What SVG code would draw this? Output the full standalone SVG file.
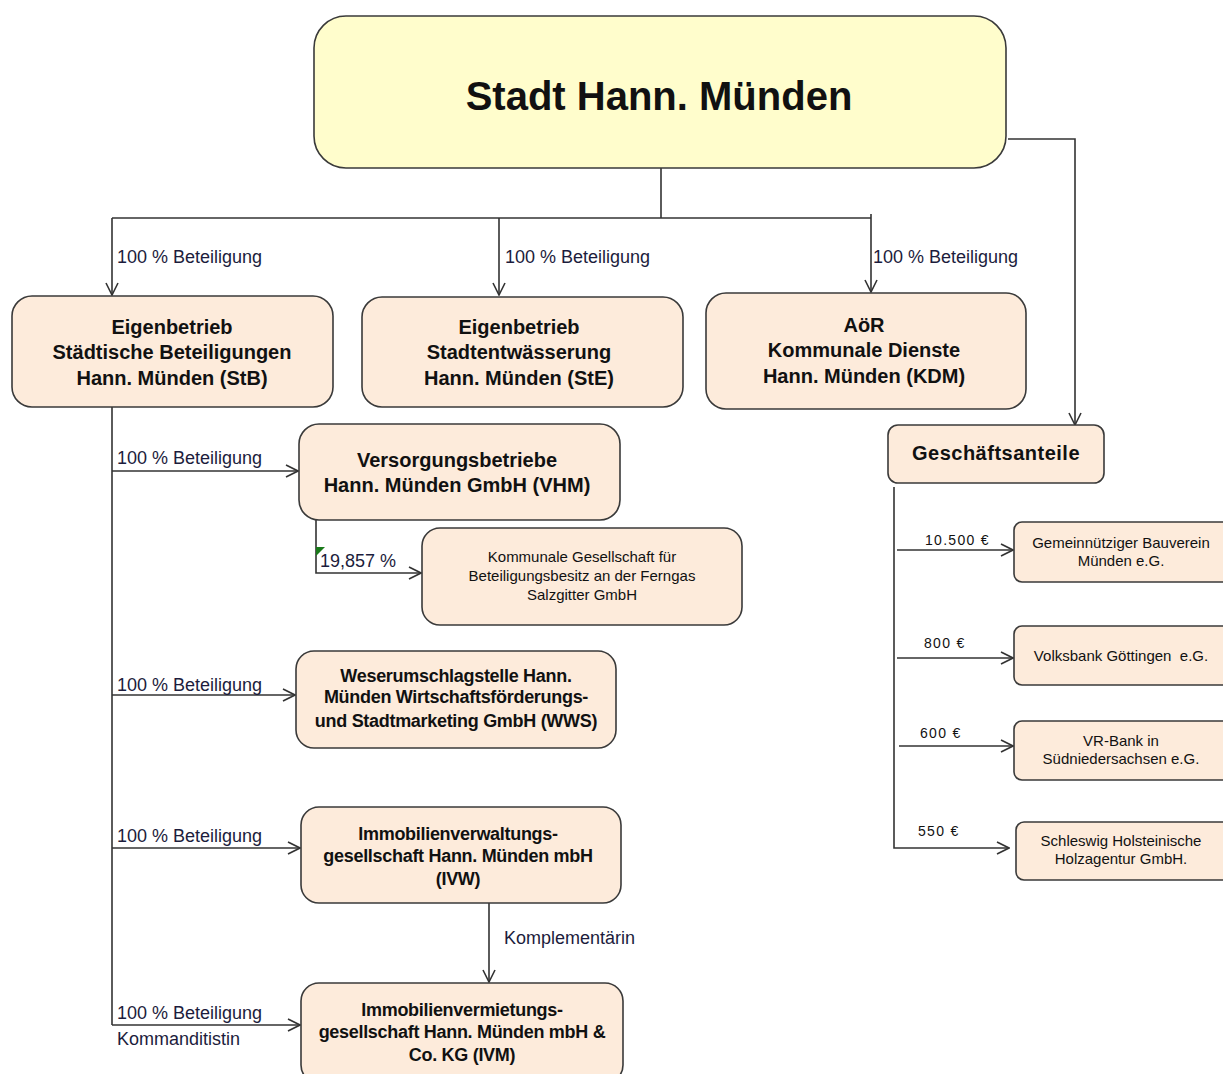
<svg xmlns="http://www.w3.org/2000/svg" width="1223" height="1074" viewBox="0 0 1223 1074">
<defs>
<marker id="arr" viewBox="0 0 14 14" refX="13" refY="7" markerWidth="14" markerHeight="14" markerUnits="userSpaceOnUse" orient="auto">
<path d="M1,1 L13,7 L1,13" fill="none" stroke="#333" stroke-width="1.6"/>
</marker>
<style>
.box{fill:#FDEBDB;stroke:#3a3a3a;stroke-width:1.6}
.top{fill:#FFFDCC;stroke:#3a3a3a;stroke-width:1.6}
.t{font-family:"Liberation Sans",Arial,sans-serif;font-weight:bold;font-size:20px;fill:#111;text-anchor:middle}
.tw{font-family:"Liberation Sans",Arial,sans-serif;font-weight:bold;font-size:18px;fill:#111;text-anchor:middle;letter-spacing:-0.3px}
.s{font-family:"Liberation Sans",Arial,sans-serif;font-size:15px;fill:#111;text-anchor:middle}
.lbl{font-family:"Liberation Sans",Arial,sans-serif;font-size:18px;fill:#1c1c3c}
.eur{font-family:"Liberation Sans",Arial,sans-serif;font-size:14px;fill:#111;letter-spacing:1.3px}
.c{fill:none;stroke:#333;stroke-width:1.6}
</style>
</defs>
<rect width="1223" height="1074" fill="#fff"/>

<g id="connectors">
<path class="c" d="M661,167 V218"/>
<path class="c" d="M112,218 H871"/>
<path class="c" d="M112,218 V295" marker-end="url(#arr)"/>
<path class="c" d="M499,218 V295" marker-end="url(#arr)"/>
<path class="c" d="M871,214 V292" marker-end="url(#arr)"/>
<path class="c" d="M1008,139 H1075 V425" marker-end="url(#arr)"/>
<path class="c" d="M112,407 V1025"/>
<path class="c" d="M112,471 H298" marker-end="url(#arr)"/>
<path class="c" d="M112,695 H295" marker-end="url(#arr)"/>
<path class="c" d="M112,848 H300" marker-end="url(#arr)"/>
<path class="c" d="M112,1025 H300" marker-end="url(#arr)"/>
<path class="c" d="M316,520 V573 H421" marker-end="url(#arr)"/>
<polygon points="316,547 325,547 316,556" fill="#1a7a1a"/>
<path class="c" d="M489,903 V982" marker-end="url(#arr)"/>
<path class="c" d="M894,487 V848 H1009" marker-end="url(#arr)"/>
<path class="c" d="M897,550 H1013" marker-end="url(#arr)"/>
<path class="c" d="M897,658 H1013" marker-end="url(#arr)"/>
<path class="c" d="M899,746 H1013" marker-end="url(#arr)"/>
<text class="lbl" x="117" y="263">100 % Beteiligung</text>
<text class="lbl" x="505" y="263">100 % Beteiligung</text>
<text class="lbl" x="873" y="263">100 % Beteiligung</text>
<text class="lbl" x="117" y="464">100 % Beteiligung</text>
<text class="lbl" x="320" y="567">19,857 %</text>
<text class="lbl" x="117" y="691">100 % Beteiligung</text>
<text class="lbl" x="117" y="842">100 % Beteiligung</text>
<text class="lbl" x="504" y="944">Komplementärin</text>
<text class="lbl" x="117" y="1019">100 % Beteiligung</text>
<text class="lbl" x="117" y="1045">Kommanditistin</text>
<text class="eur" x="925" y="545">10.500 €</text>
<text class="eur" x="924" y="648">800 €</text>
<text class="eur" x="920" y="738">600 €</text>
<text class="eur" x="918" y="836">550 €</text>
</g>

<g id="stadt">
<rect class="top" x="314" y="16" width="692" height="152" rx="32"/>
<text class="t" x="659" y="110" style="font-size:40px">Stadt Hann. Münden</text>
</g>

<g id="stb">
<rect class="box" x="12" y="296" width="321" height="111" rx="20"/>
<text class="t" x="172" y="334">Eigenbetrieb</text>
<text class="t" x="172" y="359">Städtische Beteiligungen</text>
<text class="t" x="172" y="385">Hann. Münden (StB)</text>
</g>

<g id="ste">
<rect class="box" x="362" y="297" width="321" height="110" rx="20"/>
<text class="t" x="519" y="334">Eigenbetrieb</text>
<text class="t" x="519" y="359">Stadtentwässerung</text>
<text class="t" x="519" y="385">Hann. Münden (StE)</text>
</g>

<g id="kdm">
<rect class="box" x="706" y="293" width="320" height="116" rx="20"/>
<text class="t" x="864" y="332">AöR</text>
<text class="t" x="864" y="357">Kommunale Dienste</text>
<text class="t" x="864" y="383">Hann. Münden (KDM)</text>
</g>

<g id="geschaeftsanteile">
<rect class="box" x="888" y="425" width="216" height="58" rx="10"/>
<text class="t" x="996" y="460" style="letter-spacing:0.5px">Geschäftsanteile</text>
</g>

<g id="vhm">
<rect class="box" x="299" y="424" width="321" height="96" rx="20"/>
<text class="t" x="457" y="467">Versorgungsbetriebe</text>
<text class="t" x="457" y="492">Hann. Münden GmbH (VHM)</text>
</g>

<g id="ferngas">
<rect class="box" x="422" y="528" width="320" height="97" rx="18"/>
<text class="s" x="582" y="562">Kommunale Gesellschaft für</text>
<text class="s" x="582" y="581">Beteiligungsbesitz an der Ferngas</text>
<text class="s" x="582" y="600">Salzgitter GmbH</text>
</g>

<g id="wws">
<rect class="box" x="296" y="651" width="320" height="97" rx="18"/>
<text class="tw" x="456" y="682">Weserumschlagstelle Hann.</text>
<text class="tw" x="456" y="703">Münden Wirtschaftsförderungs-</text>
<text class="tw" x="456" y="727">und Stadtmarketing GmbH (WWS)</text>
</g>

<g id="ivw">
<rect class="box" x="301" y="807" width="320" height="96" rx="18"/>
<text class="tw" x="458" y="840">Immobilienverwaltungs-</text>
<text class="tw" x="458" y="862">gesellschaft Hann. Münden mbH</text>
<text class="tw" x="458" y="885">(IVW)</text>
</g>

<g id="ivm">
<rect class="box" x="301" y="983" width="322" height="100" rx="18"/>
<text class="tw" x="462" y="1016">Immobilienvermietungs-</text>
<text class="tw" x="462" y="1038">gesellschaft Hann. Münden mbH &amp;</text>
<text class="tw" x="462" y="1061">Co. KG (IVM)</text>
</g>

<g id="bauverein">
<rect class="box" x="1014" y="522" width="216" height="60" rx="8"/>
<text class="s" x="1121" y="548">Gemeinnütziger Bauverein</text>
<text class="s" x="1121" y="566">Münden e.G.</text>
</g>

<g id="volksbank">
<rect class="box" x="1014" y="626" width="216" height="59" rx="8"/>
<text class="s" x="1121" y="661">Volksbank Göttingen&#160; e.G.</text>
</g>

<g id="vrbank">
<rect class="box" x="1014" y="721" width="216" height="59" rx="8"/>
<text class="s" x="1121" y="746">VR-Bank in</text>
<text class="s" x="1121" y="764">Südniedersachsen e.G.</text>
</g>

<g id="holzagentur">
<rect class="box" x="1016" y="822" width="214" height="58" rx="8"/>
<text class="s" x="1121" y="846">Schleswig Holsteinische</text>
<text class="s" x="1121" y="864">Holzagentur GmbH.</text>
</g>
</svg>
